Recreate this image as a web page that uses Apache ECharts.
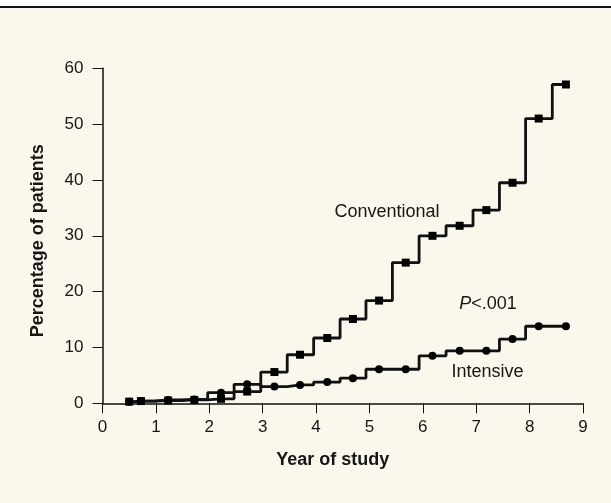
<!DOCTYPE html>
<html>
<head>
<meta charset="utf-8">
<script src="https://cdn.jsdelivr.net/npm/echarts@6/dist/echarts.min.js"></script>
<style>
html,body{margin:0;padding:0;background:#ffffff;}
#c{width:611px;height:503px;}
</style>
</head>
<body>
<div id="c"></div>
<script>
// Data
const years = [0.5, 0.72, 1.23, 1.72, 2.22, 2.71, 3.22, 3.70, 4.21, 4.69, 5.18, 5.68, 6.18, 6.69, 7.19, 7.68, 8.17, 8.68];
const conventional = [0.3, 0.4, 0.5, 0.6, 0.8, 2.1, 5.6, 8.7, 11.7, 15.1, 18.4, 25.2, 30.0, 31.8, 34.6, 39.5, 51.0, 57.1];
const intensive = [0.3, 0.4, 0.6, 0.7, 1.9, 3.4, 3.0, 3.3, 3.8, 4.5, 6.1, 6.1, 8.5, 9.4, 9.4, 11.5, 13.8, 13.8];
const xTicks = [0, 1, 2, 3, 4, 5, 6, 7, 8, 9];
const yTicks = [0, 10, 20, 30, 40, 50, 60];
const xTitle = 'Year of study';
const yTitle = 'Percentage of patients';
const annotations = [
  {text: 'Conventional', x: 5.33, y: 34.2, italicP: false},
  {text: 'Intensive', x: 7.21, y: 5.66, italicP: false},
  {text: '<.001', x: 7.22, y: 17.8, italicP: true}
];

const FONT = '"Liberation Sans", Arial, Helvetica, sans-serif';
const TXT = '#161616';
const BG = '#faf7ec';

const chart = echarts.init(document.getElementById('c'), null, {renderer: 'canvas'});

function pairs(xs, ys) { return xs.map((x, i) => [x, ys[i]]); }

const option = {
  backgroundColor: BG,
  animation: false,
  grid: {left: 102.5, right: 28, top: 68.3, bottom: 99.7, containLabel: false},
  xAxis: {
    type: 'value', min: xTicks[0], max: xTicks[xTicks.length - 1], interval: 1,
    splitLine: {show: false},
    axisLine: {show: true, onZero: false, lineStyle: {color: '#111', width: 1.5}},
    axisTick: {show: true, inside: false, length: 10, lineStyle: {color: '#111', width: 1}},
    axisLabel: {margin: 16, color: TXT, fontSize: 17, fontFamily: FONT},
    name: xTitle, nameLocation: 'middle', nameGap: 48,
    nameTextStyle: {color: TXT, fontSize: 18, fontWeight: 'bold', fontFamily: FONT, padding: [0, 20, 0, 0]}
  },
  yAxis: {
    type: 'value', min: yTicks[0], max: yTicks[yTicks.length - 1], interval: 10,
    splitLine: {show: false},
    axisLine: {show: true, onZero: false, lineStyle: {color: '#111', width: 1.5}},
    axisTick: {show: true, inside: false, length: 10, lineStyle: {color: '#111', width: 1}},
    axisLabel: {margin: 19, color: TXT, fontSize: 17, fontFamily: FONT},
    name: yTitle, nameLocation: 'middle', nameGap: 55,
    nameTextStyle: {color: TXT, fontSize: 18, fontWeight: 'bold', fontFamily: FONT, padding: [0, 10, 0, 0]}
  },
  series: [
    {
      name: 'Conventional', type: 'line', step: 'middle',
      data: pairs(years, conventional),
      symbol: 'rect', symbolSize: 8, showSymbol: true,
      lineStyle: {color: '#111', width: 2.8},
      itemStyle: {color: '#000'}
    },
    {
      name: 'Intensive', type: 'line', step: 'middle',
      data: pairs(years, intensive),
      symbol: 'circle', symbolSize: 8, showSymbol: true,
      lineStyle: {color: '#111', width: 2.8},
      itemStyle: {color: '#000'}
    }
  ]
};
chart.setOption(option);

// Frame (white strip and rule at the top) and annotations placed from data coords
const graphics = [
  {type: 'rect', shape: {x: 0, y: 0, width: 611, height: 6}, style: {fill: '#ffffff'}, silent: true},
  {type: 'rect', shape: {x: 0, y: 6, width: 611, height: 2}, style: {fill: '#111111'}, silent: true}
];
annotations.forEach(a => {
  const p = chart.convertToPixel({gridIndex: 0}, [a.x, a.y]);
  if (a.italicP) {
    graphics.push({
      type: 'text', x: p[0], y: p[1],
      style: {
        text: '{i|P}' + a.text,
        rich: {i: {fontStyle: 'italic', fontSize: 18, fontFamily: FONT, fill: TXT}},
        fontSize: 18, fontFamily: FONT, fill: TXT, align: 'center', verticalAlign: 'middle'
      }
    });
  } else {
    graphics.push({
      type: 'text', x: p[0], y: p[1],
      style: {text: a.text, fontSize: 18, fontFamily: FONT, fill: TXT, align: 'center', verticalAlign: 'middle'}
    });
  }
});
chart.setOption({graphic: graphics});
</script>
</body>
</html>
